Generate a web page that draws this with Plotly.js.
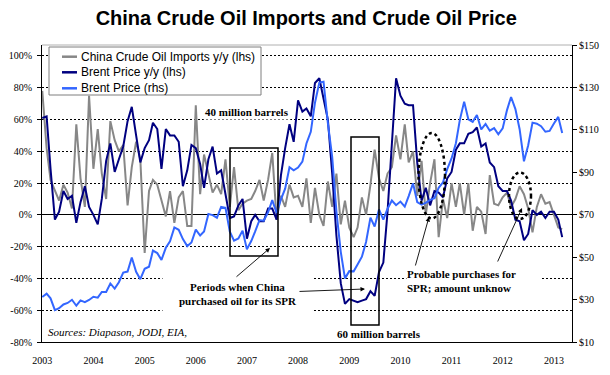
<!DOCTYPE html>
<html>
<head>
<meta charset="utf-8">
<script src="https://cdn.plot.ly/plotly-3.0.1.min.js"></script>
<style>html,body{margin:0;padding:0;background:#fff;}#chart{width:610px;height:375px;}</style>
</head>
<body>
<div id="chart"></div>
<script>
// ---- data (monthly, Jan 2003 - Mar 2013) ----
const startYear = 2003;
const yearLabels = ['2003','2004','2005','2006','2007','2008','2009','2010','2011','2012','2013'];
const leftTickVals = [-80, -60, -40, -20, 0, 20, 40, 60, 80, 100];
const leftTickText = ['-80%', '-60%', '-40%', '-20%', '0%', '20%', '40%', '60%', '80%', '100%'];
const rightTickVals = [10, 30, 50, 70, 90, 110, 130, 150];
const rightTickText = ['$10', '$30', '$50', '$70', '$90', '$110', '$130', '$150'];
const seriesNames = ['China Crude Oil Imports y/y (lhs)', 'Brent Price y/y (lhs)', 'Brent Price (rhs)'];
const seriesColors = ['#878787', '#000080', '#3366ff'];

const chinaImportsYoY = [
  78, 42, 22, 15, 9, 19, 14, 4, 57, 23, 5, 75,
  29, 54, 26, 10, 59, 47, 40, 44, 6, 30, 46, 35,
  -24, 15, 22, 19, 9, -1, 15, -5, 11, 15, -7, -7,
  69, 13, 38, 26, 14, 19, 13, 35, 5, 30, 3, 7,
  9, 10, 15, 22, 9, 22, 39, -3, 12, 5, 19, 11,
  12, 5, 23, -5, 17, 0, -7, 21, 5, 26, -6, 9,
  -8, -14, -8, 11, 0, 19, 41, 23, 15, 26, 30, 50,
  35, 57, 33, 40, 12, 34, 0, 20, 35, -14, 10, -2,
  20, 5, 20, 0, 20, -10, 5, 2, -12, 25, 7, 6,
  11, 14, 5, 10, 18, 13, 4, -11, 5, 13, 7, 8,
  0, -8, -9
];

const brentYoY = [
  61, 62, 29, -3, 2, 15, 10, 12, -5, 8, 18, 5,
  0, -6, 10, 34, 45, 27, 35, 43, 59, 68, 50, 33,
  42, 47, 58, 54, 29, 54, 50, 50, 46, 18, 28, 44,
  42, 32, 17, 35, 43, 26, 28, 14, -2, -1, 6, 10,
  -15, -4, 0, -4, -4, 4, 4, -3, 25, 42, 57, 46,
  72, 65, 67, 62, 83, 86, 73, 60, 26, -13, -43, -56,
  -53, -54, -55, -54, -53, -48, -51, -36, -30, 2, 46, 86,
  75, 70, 69, 69, 33, 9, 17, 6, 15, 14, 11, 23,
  27, 41, 45, 45, 51, 52, 55, 43, 45, 33, 30, 18,
  15, 15, 9, -3, -4, -16, -12, 3, 0, 2, -2, 2,
  2, -3, -14
];

const brentPrice = [
  31.2, 32.8, 30.6, 25.0, 25.9, 27.7, 28.4, 29.9, 27.1, 29.6, 28.8, 29.8,
  31.3, 30.9, 33.6, 33.6, 37.6, 35.2, 38.2, 42.7, 43.2, 49.8, 43.1, 39.6,
  44.5, 45.5, 53.1, 51.9, 48.7, 54.4, 57.5, 64.0, 62.9, 58.5, 55.2, 56.9,
  63.0, 60.2, 62.1, 70.3, 69.8, 68.6, 73.7, 73.2, 62.0, 57.8, 58.8, 62.5,
  53.7, 57.6, 62.1, 67.5, 67.2, 71.1, 76.9, 70.8, 77.2, 82.3, 92.4, 90.9,
  92.2, 95.0, 103.6, 109.1, 122.8, 132.3, 132.7, 113.2, 97.2, 71.6, 52.5, 40.0,
  43.4, 43.3, 46.5, 50.2, 57.3, 68.6, 64.4, 72.5, 67.7, 72.8, 76.7, 74.5,
  76.2, 73.8, 78.8, 84.8, 76.0, 74.8, 75.6, 77.0, 77.8, 82.7, 85.3, 91.5,
  96.5, 103.7, 114.6, 123.3, 115.0, 113.8, 117.0, 110.2, 112.8, 109.6, 110.8, 107.9,
  110.7, 119.3, 125.5, 119.8, 110.3, 95.2, 102.6, 113.4, 112.9, 111.7, 109.1, 109.5,
  113.0, 116.1, 108.5
];

// month categories
const months = chinaImportsYoY.map((_, i) => {
  const y = startYear + Math.floor(i / 12);
  const m = (i % 12) + 1;
  return y + '-' + (m < 10 ? '0' + m : m) + '-01';
});
const yearTicks = yearLabels.map(y => y + '-01-01');

// ---- layout helpers (plot area in pixels) ----
const L = 42, R = 572, T = 45, B = 342;
const px = x => (x - L) / (R - L);
const py = y => (B - y) / (B - T);

const serif = 'Liberation Serif';
const sans = 'Liberation Sans';

const traces = [
  {x: months, y: chinaImportsYoY, name: seriesNames[0], type: 'scatter', mode: 'lines',
   line: {color: seriesColors[0], width: 2}, yaxis: 'y'},
  {x: months, y: brentYoY, name: seriesNames[1], type: 'scatter', mode: 'lines',
   line: {color: seriesColors[1], width: 2}, yaxis: 'y'},
  {x: months, y: brentPrice, name: seriesNames[2], type: 'scatter', mode: 'lines',
   line: {color: seriesColors[2], width: 2}, yaxis: 'y2'}
];

function arrow(hx, hy, tx, ty) {
  return {xref: 'paper', yref: 'paper', x: px(hx), y: py(hy), ax: tx - hx, ay: ty - hy,
    text: '', showarrow: true, arrowhead: 2, arrowsize: 1, arrowwidth: 0.9, arrowcolor: '#000', standoff: 0};
}

// custom legend box (drawn as shapes + text)
const legendRows = [56.7, 72.3, 88.3];
const legendShapes = [
  {type: 'rect', xref: 'paper', yref: 'paper', layer: 'above', x0: px(49), x1: px(261), y0: py(95), y1: py(47),
   fillcolor: '#fff', line: {color: '#7f7f7f', width: 1}}
].concat(legendRows.map((r, i) => ({type: 'line', xref: 'paper', yref: 'paper', layer: 'above',
   x0: px(62), x1: px(77), y0: py(r), y1: py(r), line: {color: seriesColors[i], width: 2.5}})));
const legendTexts = legendRows.map((r, i) => ({xref: 'paper', yref: 'paper', x: px(79), y: py(r),
   xanchor: 'left', yanchor: 'middle', text: seriesNames[i], showarrow: false,
   font: {family: sans, size: 12, color: '#000'}}));

const tickFont = {family: serif, size: 10, color: '#000'};

const layout = {
  width: 610, height: 375,
  margin: {l: L, r: 610 - R, t: T, b: 375 - B, pad: 0},
  paper_bgcolor: '#fff', plot_bgcolor: '#fff',
  showlegend: false,
  title: {text: '<b>China Crude Oil Imports and Crude Oil Price</b>',
    font: {family: sans, size: 20, color: '#000'},
    xref: 'container', x: 0.502, xanchor: 'center', yref: 'container', y: 1 - 18 / 375, yanchor: 'middle'},
  xaxis: {type: 'date', range: ['2002-12-30', '2013-05-10'],
    tickmode: 'array', tickvals: yearTicks, ticktext: yearLabels, ticks: '', showgrid: false, zeroline: false,
    showline: true, linecolor: '#000', linewidth: 1,
    tickfont: tickFont, ticklabelstandoff: 9},
  yaxis: {range: [-80, 106.9], tickmode: 'array', tickvals: leftTickVals, ticktext: leftTickText,
    showgrid: true, gridcolor: '#000', gridwidth: 1, griddash: '2px,2px',
    zeroline: true, zerolinecolor: '#000', zerolinewidth: 1,
    showline: true, linecolor: '#000', linewidth: 1, ticks: 'outside', ticklen: 4, tickcolor: '#000',
    tickfont: tickFont, ticklabelstandoff: 3},
  yaxis2: {range: [10, 150], tickmode: 'array', tickvals: rightTickVals, ticktext: rightTickText,
    overlaying: 'y', side: 'right', showgrid: false, zeroline: false,
    showline: true, linecolor: '#000', linewidth: 1, ticks: 'outside', ticklen: 4, tickcolor: '#000',
    tickfont: tickFont},
  shapes: [
    {type: 'line', xref: 'paper', yref: 'paper', x0: 0, x1: 1, y0: 1, y1: 1, line: {color: '#b0b0b0', width: 1}},
    {type: 'rect', xref: 'paper', yref: 'paper', x0: px(230), x1: px(278), y0: py(256), y1: py(148),
     line: {color: '#000', width: 1.5}},
    {type: 'rect', xref: 'paper', yref: 'paper', x0: px(351), x1: px(379), y0: py(325), y1: py(137),
     line: {color: '#000', width: 1.5}},
    {type: 'circle', xref: 'paper', yref: 'paper', x0: px(418.5), x1: px(445), y0: py(218.5), y1: py(133),
     line: {color: '#000', width: 2.5, dash: 'dot'}},
    {type: 'circle', xref: 'paper', yref: 'paper', x0: px(509), x1: px(531), y0: py(219), y1: py(172.5),
     line: {color: '#000', width: 2.5, dash: 'dot'}}
  ].concat(legendShapes),
  annotations: [
    {xref: 'paper', yref: 'paper', x: px(247), y: py(112), xanchor: 'center', yanchor: 'middle',
     text: '<b>40 million barrels</b>', showarrow: false, bgcolor: '#fff', borderpad: 1,
     font: {family: serif, size: 11, color: '#000'}},
    {xref: 'paper', yref: 'paper', x: px(238), y: py(294), xanchor: 'center', yanchor: 'middle',
     text: '<b>Periods when China<br>purchased oil for its SPR</b>', showarrow: false, bgcolor: '#fff',
     width: 150, height: 40, borderpad: 0, align: 'center',
     font: {family: serif, size: 11, color: '#000'}},
    {xref: 'paper', yref: 'paper', x: px(406), y: py(281), xanchor: 'left', yanchor: 'middle',
     text: '<b>Probable purchases for<br>SPR; amount unknow</b>', showarrow: false, bgcolor: '#fff',
     width: 134, height: 32, borderpad: 0, align: 'left',
     font: {family: serif, size: 11, color: '#000'}},
    {xref: 'paper', yref: 'paper', x: px(46), y: py(332), xanchor: 'left', yanchor: 'middle',
     text: '<i>Sources: Diapason, JODI, EIA,</i>', showarrow: false,
     font: {family: serif, size: 11, color: '#000'}},
    {xref: 'paper', yref: 'paper', x: px(379), y: py(334), xanchor: 'center', yanchor: 'middle',
     text: '<b>60 million barrels</b>', showarrow: false,
     font: {family: serif, size: 11, color: '#000'}},
    arrow(270, 248, 235, 278),
    arrow(365, 289, 298, 291.5),
    arrow(429, 217, 415, 267),
    arrow(522, 208, 497, 263)
  ].concat(legendTexts)
};

Plotly.newPlot('chart', traces, layout, {displayModeBar: false, staticPlot: true});
</script>
</body>
</html>
